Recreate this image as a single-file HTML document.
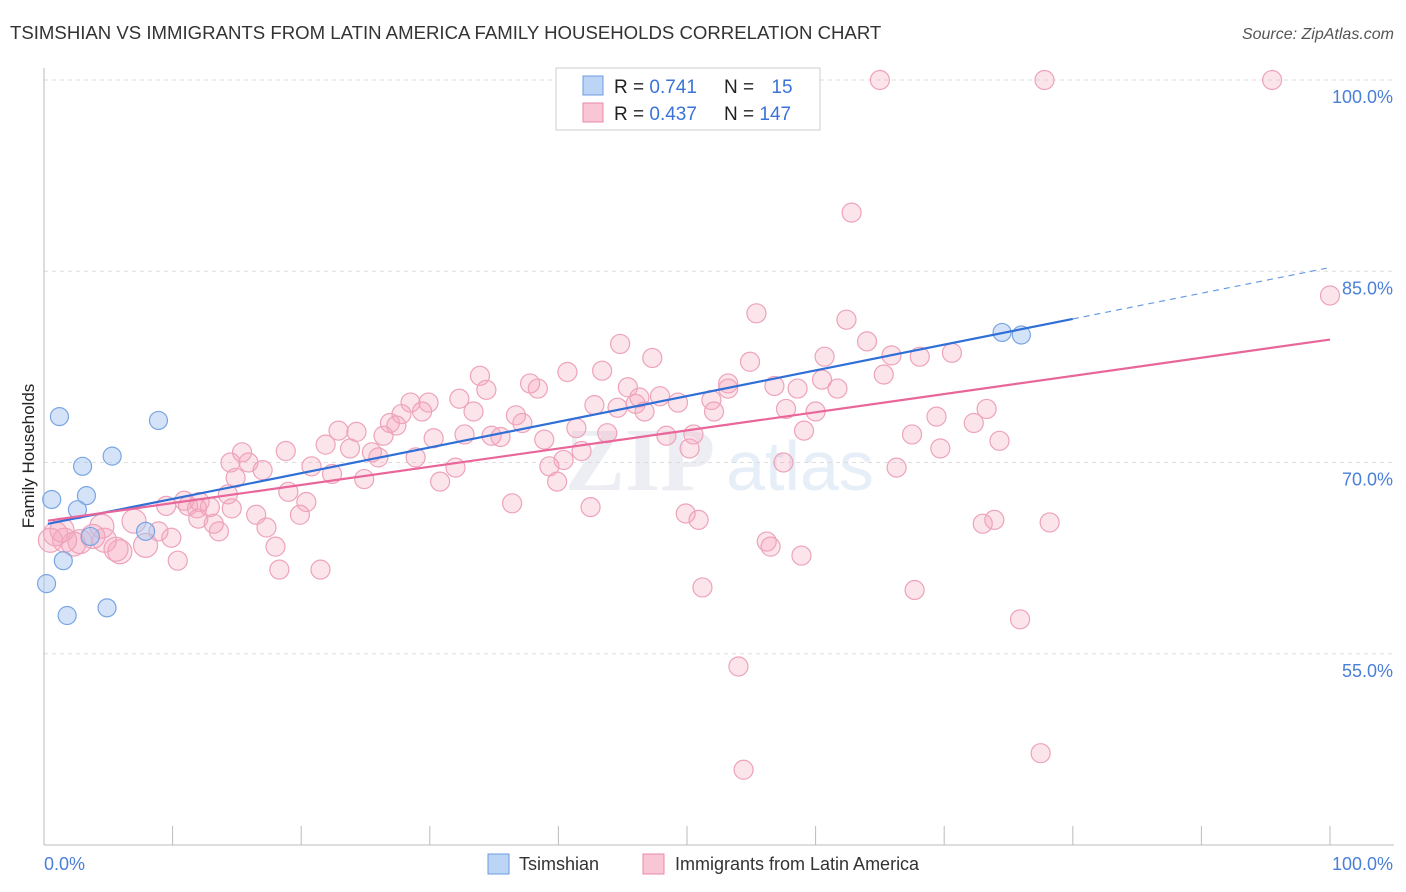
<!DOCTYPE html>
<html><head><meta charset="utf-8"><style>
body{margin:0;background:#fff;font-family:"Liberation Sans",sans-serif;}
svg{display:block}
</style></head><body>
<svg id="c" width="1406" height="892">
<text x="10" y="39" font-size="18.6" fill="#333">TSIMSHIAN VS IMMIGRANTS FROM LATIN AMERICA FAMILY HOUSEHOLDS CORRELATION CHART</text>
<text x="1394" y="39" font-size="16" fill="#555" font-style="italic" text-anchor="end">Source: ZipAtlas.com</text>
<text x="34" y="456" font-size="17" fill="#222" text-anchor="middle" transform="rotate(-90 34 456)">Family Households</text>
<text x="640" y="490" font-size="90" fill="#eceef3" font-family="Liberation Serif,serif" font-weight="bold" text-anchor="middle">ZIP</text>
<text x="800" y="490" font-size="70" fill="#e6eef8" text-anchor="middle">atlas</text>
<g id="grid"></g><g id="pts"></g><g id="lines"></g>
<g>
<rect x="556" y="68" width="264" height="62" fill="#fff" stroke="#ccc"/>
<rect x="583" y="76" width="20" height="19" fill="#bcd4f5" stroke="#6b9be0"/>
<rect x="583" y="103" width="20" height="19" fill="#f9c6d5" stroke="#e58aa8"/>
<text x="614" y="93" font-size="19" fill="#222">R = <tspan fill="#3b73d9">0.741</tspan></text>
<text x="724" y="93" font-size="19" fill="#222">N = <tspan fill="#3b73d9" dx="12">15</tspan></text>
<text x="614" y="120" font-size="19" fill="#222">R = <tspan fill="#3b73d9">0.437</tspan></text>
<text x="724" y="120" font-size="19" fill="#222">N = <tspan fill="#3b73d9">147</tspan></text>
</g>
<g>
<rect x="488" y="854" width="21" height="20" fill="#bcd4f5" stroke="#6b9be0"/>
<text x="519" y="870" font-size="18" fill="#333">Tsimshian</text>
<rect x="643" y="854" width="21" height="20" fill="#f9c6d5" stroke="#e58aa8"/>
<text x="675" y="870" font-size="18" fill="#333">Immigrants from Latin America</text>
</g>
</svg>
<script>
const yTicks=[55,70,85,100];
const yTickLabels=["55.0%","70.0%","85.0%","100.0%"];
const xTickLabels=["0.0%","100.0%"];
const blueX=[1.2,0.6,3.0,3.3,2.6,5.3,8.9,3.6,1.5,0.2,1.8,4.9,7.9,74.5,76.0];
const blueY=[73.6,67.1,69.7,67.4,66.3,70.5,73.3,64.2,62.3,60.5,58.0,58.6,64.6,80.2,80.0];
const pinkX=[65.0,77.8,95.5,62.8,100,55.4,62.4,64.0,65.9,68.1,70.6,60.7,54.9,44.8,47.3,43.4,40.7,33.9,37.8,38.4,34.4,28.5,29.9,32.3,29.4,27.8,33.4,26.9,27.4,22.9,24.3,26.4,32.7,34.8,35.5,36.7,37.2,38.9,30.3,25.5,23.8,26.0,21.9,20.8,18.8,15.4,15.9,17.0,14.9,14.3,22.4,24.9,28.9,30.8,32.0,39.3,39.9,40.4,41.8,41.4,43.8,42.8,44.6,46.0,45.4,46.3,47.9,49.3,46.7,51.9,52.1,53.2,53.2,56.8,58.6,60.5,61.7,57.7,60.0,59.1,50.5,48.4,50.2,57.5,65.3,66.3,67.5,69.4,69.7,72.3,73.3,74.3,78.2,73.9,73.0,67.7,75.9,77.5,54.0,54.4,51.2,56.2,56.5,58.9,49.9,50.9,36.4,42.5,19.0,20.4,19.9,16.5,17.3,18.0,18.3,21.5,14.6,13.6,13.2,12.0,10.9,11.2,11.9,12.9,9.5,10.4,9.9,8.9,7.9,7.0,5.9,5.6,4.7,4.5,3.8,2.8,2.3,1.6,0.9,0.5,1.4,12.1,14.5];
const pinkY=[100,100,100,89.6,83.1,81.7,81.2,79.5,78.4,78.3,78.6,78.3,77.9,79.3,78.2,77.2,77.1,76.8,76.2,75.8,75.7,74.7,74.7,75.0,74.0,73.8,74.0,73.1,72.9,72.5,72.4,72.1,72.2,72.1,72.0,73.7,73.1,71.8,71.9,70.8,71.1,70.4,71.4,69.7,70.9,70.8,70.0,69.4,68.8,67.5,69.1,68.7,70.4,68.5,69.6,69.7,68.5,70.2,70.9,72.7,72.3,74.5,74.3,74.6,75.9,75.1,75.2,74.7,74.0,74.9,74.0,76.2,75.8,76.0,75.8,76.5,75.8,74.2,74.0,72.5,72.2,72.1,71.1,70.0,76.9,69.6,72.2,73.6,71.1,73.1,74.2,71.7,65.3,65.5,65.2,60.0,57.7,47.2,54.0,45.9,60.2,63.8,63.4,62.7,66.0,65.5,66.8,66.5,67.7,66.9,65.9,65.9,64.9,63.4,61.6,61.6,66.4,64.6,65.2,65.6,67.0,66.6,66.4,66.5,66.6,62.3,64.1,64.6,63.5,65.4,63.0,63.2,63.9,65.0,64.2,63.8,63.6,63.9,64.4,63.9,64.7,66.9,70.0];
const NS='http://www.w3.org/2000/svg';
const sx=v=>44+v*12.86, sy=v=>80+(100-v)*12.75;
function mk(t,a,p){const e=document.createElementNS(NS,t);for(const k in a)e.setAttribute(k,a[k]);p.appendChild(e);return e;}
const grid=document.getElementById('grid');
yTicks.forEach((v,i)=>{
 const l=mk('line',{x1:44,x2:1394,y1:sy(v),y2:sy(v),stroke:'#ddd','stroke-dasharray':'4 4'},grid);
 
 
 const t=mk('text',{x:1393,y:sy(v)+23,'font-size':18,fill:'#4a7fd8','text-anchor':'end'},grid);
 t.textContent=yTickLabels[i];
 
 
});
mk('line',{x1:44,x2:44,y1:68,y2:845,stroke:'#bbb'},grid);
mk('line',{x1:44,x2:1394,y1:845,y2:845,stroke:'#bbb'},grid);
for(let i=0;i<=10;i++){mk('line',{x1:sx(i*10),x2:sx(i*10),y1:826,y2:845,stroke:'#bbb'},grid);}
const xl0=mk('text',{x:44,y:870,'font-size':18,fill:'#4a7fd8'},grid);xl0.textContent=xTickLabels[0];


const xl1=mk('text',{x:1393,y:870,'font-size':18,fill:'#4a7fd8','text-anchor':'end'},grid);xl1.textContent=xTickLabels[1];


const pts=document.getElementById('pts');
pinkX.forEach((x,i)=>{
 const c=mk('circle',{cx:sx(x),cy:sy(pinkY[i]),r:x<8?12:9.5,fill:'rgba(244,165,190,0.3)',stroke:'#eda3bb','stroke-width':1.2},pts);
 
 
});
blueX.forEach((x,i)=>{
 const c=mk('circle',{cx:sx(x),cy:sy(blueY[i]),r:9,fill:'rgba(170,200,240,0.5)',stroke:'#7aa5e3','stroke-width':1.2},pts);
 
 
});
function fit(X,Y){const n=X.length;let mx=0,my=0;X.forEach((x,i)=>{mx+=x;my+=Y[i]});mx/=n;my/=n;let sxy=0,sxx=0;X.forEach((x,i)=>{sxy+=(x-mx)*(Y[i]-my);sxx+=(x-mx)**2});const b=sxy/sxx;return [my-b*mx,b];}
const lines=document.getElementById('lines');
const [ba,bb]=fit(blueX,blueY),[pa,pb]=fit(pinkX,pinkY);
const bl=mk('line',{x1:sx(0.3),y1:sy(ba+bb*0.3),x2:sx(80),y2:sy(ba+bb*80),stroke:'#2f6fd6','stroke-width':2.2},lines);


const bd=mk('line',{x1:sx(80),y1:sy(ba+bb*80),x2:sx(100),y2:sy(ba+bb*100),stroke:'#6b9be0','stroke-width':1.2,'stroke-dasharray':'6 5'},lines);


const pl=mk('line',{x1:sx(0.3),y1:sy(pa+pb*0.3),x2:sx(100),y2:sy(pa+pb*100+0.15),stroke:'#e8669a','stroke-width':2.2},lines);


</script>
</body></html>
